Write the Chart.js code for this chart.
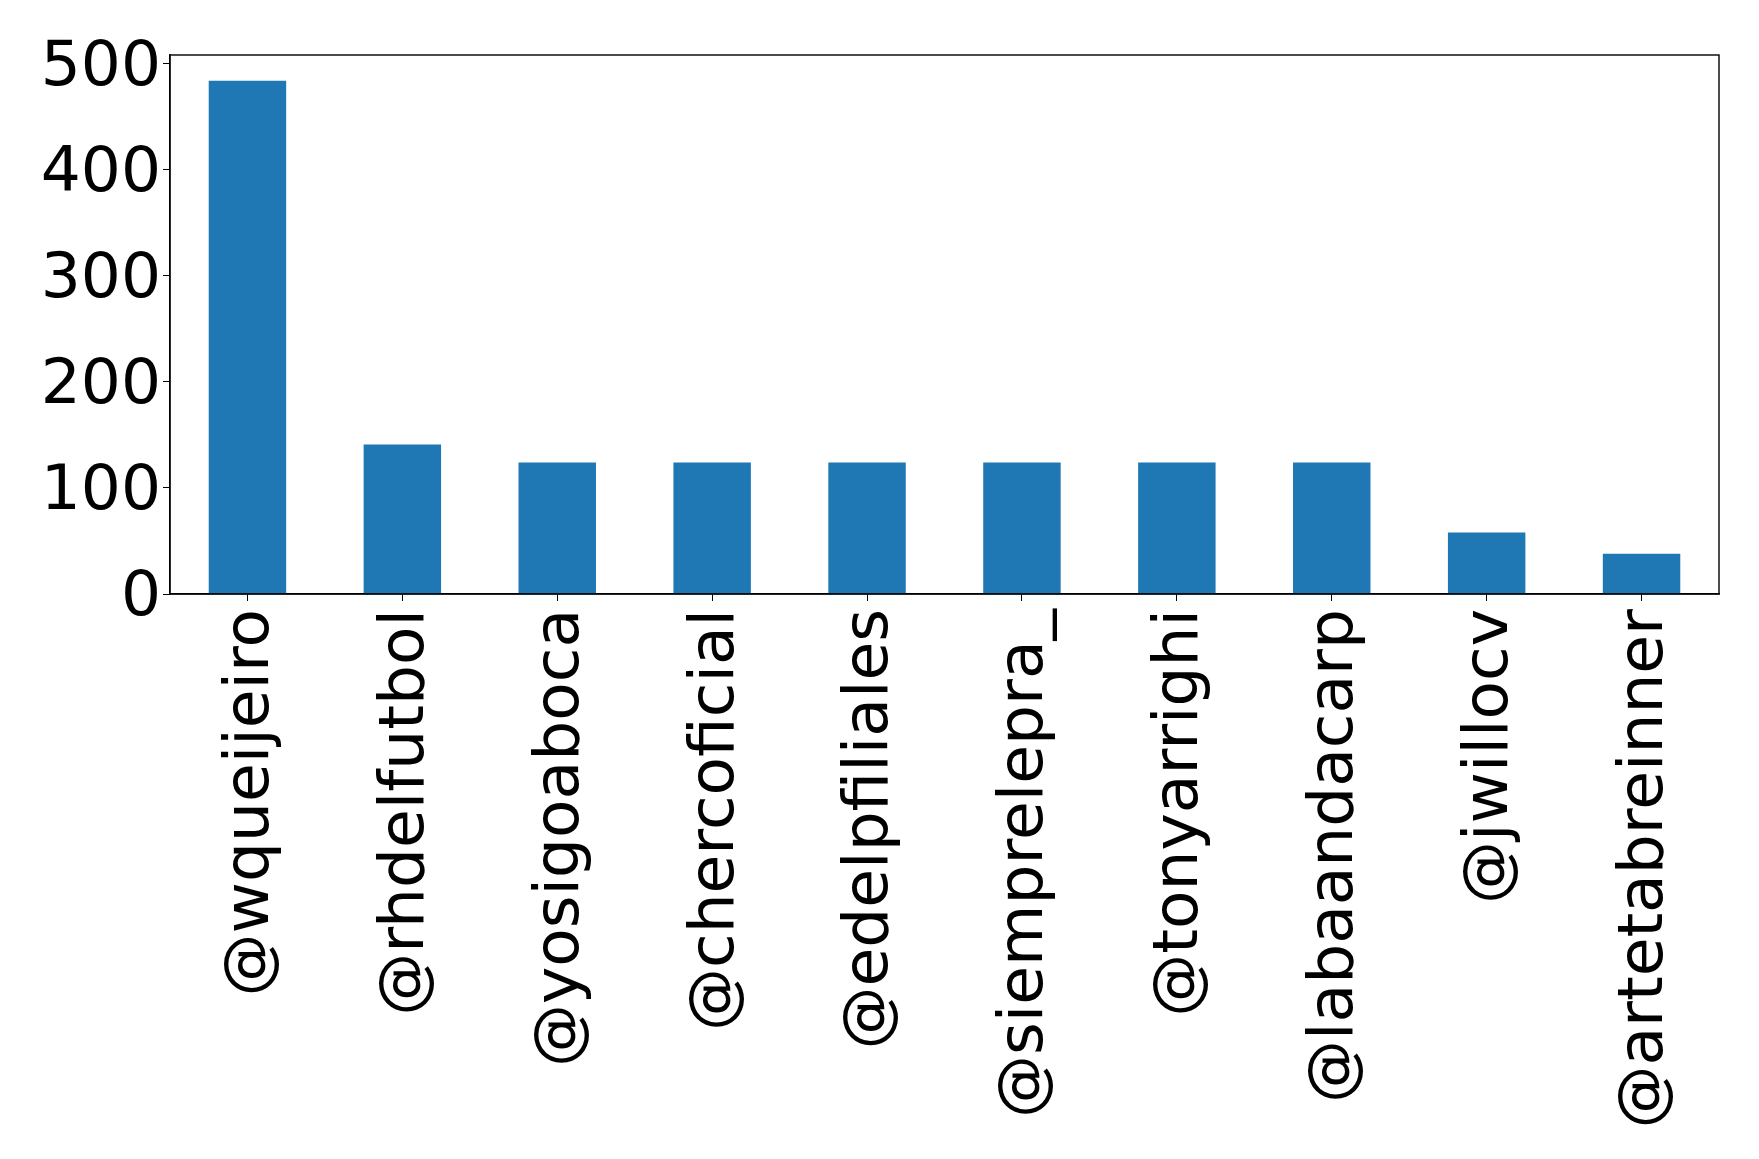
<!DOCTYPE html>
<html>
<head>
<meta charset="utf-8">
<script src="https://cdn.jsdelivr.net/npm/chart.js@4/dist/chart.umd.min.js"></script>
<style>
  html, body { margin: 0; padding: 0; background: #fff; }
  #wrap { width: 1759px; height: 1159px; }
</style>
</head>
<body>
<div id="wrap"><canvas id="c" width="1759" height="1159"></canvas></div>
<script>
const categories = ['@wqueijeiro', '@rhdelfutbol', '@yosigoaboca', '@chercoficial', '@edelpfiliales', '@siemprelepra_', '@tonyarrighi', '@labaandacarp', '@jwillocv', '@artetabreinner'];
const counts = [484, 141, 124, 124, 124, 124, 124, 124, 58, 38];
const yTicks = [0, 100, 200, 300, 400, 500];

const frame = {
  id: 'frame',
  afterDraw(chart) {
    const a = chart.chartArea, ctx = chart.ctx;
    ctx.save();
    ctx.strokeStyle = '#000';
    ctx.lineWidth = 1.4;
    ctx.strokeRect(a.left, a.top, a.right - a.left, a.bottom - a.top);
    ctx.restore();
  }
};

new Chart(document.getElementById('c'), {
  type: 'bar',
  data: {
    labels: categories,
    datasets: [{ data: counts, backgroundColor: '#1f77b4', borderWidth: 0, barPercentage: 0.5, categoryPercentage: 1.0 }]
  },
  options: {
    responsive: false,
    animation: false,
    layout: { padding: { top: 55, right: 40, left: 0, bottom: 0 } },
    plugins: { legend: { display: false }, tooltip: { enabled: false } },
    scales: {
      x: {
        offset: true,
        grid: { drawOnChartArea: false, drawTicks: true, tickLength: 7, color: '#000', offset: false },
        border: { display: true, color: '#000', width: 1.4 },
        ticks: {
          color: '#000', minRotation: 90, maxRotation: 90, padding: 8, autoSkip: false, labelOffset: 4,
          font: { family: 'DejaVu Sans', size: 63 }
        },
        afterFit(s) { s.height = 1159 - 594; }
      },
      y: {
        min: 0, max: 508.2,
        grid: { drawOnChartArea: false, drawTicks: true, tickLength: 7, color: '#000' },
        border: { display: true, color: '#000', width: 1.4 },
        ticks: { color: '#000', padding: 2, labelOffset: 5, font: { family: 'DejaVu Sans', size: 63 } },
        afterBuildTicks(s) { s.ticks = yTicks.map(v => ({ value: v })); },
        afterFit(s) { s.width = 170; }
      }
    }
  },
  plugins: [frame]
});
</script>
</body>
</html>
